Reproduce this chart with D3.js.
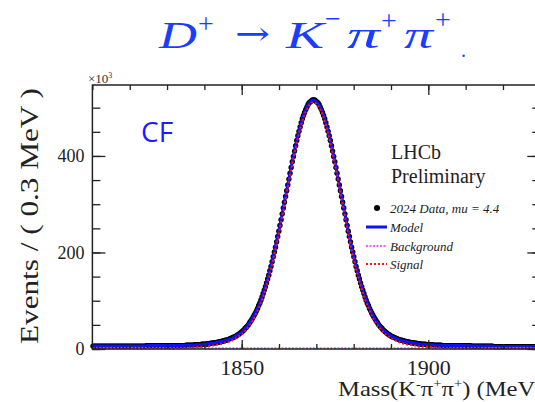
<!DOCTYPE html>
<html>
<head>
<meta charset="utf-8">
<script src="https://cdn.jsdelivr.net/npm/d3@7"></script>
<style>
  body { margin: 0; background: #fff; }
  svg { display: block; }
</style>
</head>
<body>
<svg id="chart" width="535" height="402"></svg>
<script>
// data: Events / 0.3 MeV (x10^3), bins start at 1810 MeV
const massLo = 1810;
const binWidth = 0.3;
const counts = [
  6,6,6,6,6,6,6,6,6,6,6,6,
  6,6,6,6,6,6,6,6,6,6,6,6,
  6,6,6,6,6,6,6,6,6,6,6,6,
  6,6,6,6,6,6,6,6,6,6,6,6,
  7,7,7,7,7,7,7,7,7,7,
  7,7,7,7,7,7,7,7,7,7,
  7,7,7,7,7,7,7,7,7,
  7,7,7,7,7,7,8,8,8,8,
  8,8,8,8,9,9,9,9,9,9,
  10,10,10,10,10,11,11,11,12,12,
  12,13,13,13,14,14,15,15,16,16,
  17,18,18,19,20,21,22,23,24,25,
  26,27,29,30,32,34,36,38,40,43,
  45,48,51,55,58,62,66,70,74,79,
  84,90,95,101,108,115,122,129,137,145,
  153,162,171,181,191,201,211,222,233,244,
  256,268,280,292,304,316,328,340,352,364,
  376,388,399,410,421,432,442,451,460,469,
  477,484,490,496,501,506,510,512,514,516,
  516,
  516,514,512,510,506,501,496,490,484,477,
  469,460,451,442,432,421,410,399,388,376,
  364,352,340,328,316,304,292,280,268,256,
  244,233,222,211,201,191,181,171,162,153,
  145,137,129,122,115,108,101,95,90,84,
  79,74,70,66,62,58,55,51,48,45,
  43,40,38,36,34,32,30,29,27,26,
  25,24,23,22,21,20,19,18,18,17,
  16,16,15,15,14,14,13,13,13,12,
  12,12,11,11,11,10,10,10,10,10,
  9,9,9,9,9,9,8,8,8,8,
  8,8,8,8,7,7,7,7,7,7,
  7,7,7,7,7,7,7,7,7,7,
  7,7,7,7,7,7,7,7,7,7,
  6,6,6,6,6,6,6,6,6,6,
  6,6,6,6,6,6,6,6,6,6,
  5,5,5,5,5,5,5,5,5,5,5,5,5,5,
  5,5,5,5,5,5,5,5,5,5,5,5,5,5,
  5,5,5,5,5,5,5,5,5,5,5,5,5,5
];

// fit curves, one value per MeV from 1810 to 1930
const curveStart = 1810;
const model = [
  6,6,6,6,6,6,6,6,6,6,6,6,6,6,6,
  7,7,7,7,7,7,7,7,7,7,
  8,8,8,9,
  9,10,11,12,13,15,16,19,21,25,30,
  35,43,53,65,80,98,120,146,176,210,
  246,286,326,366,405,440,470,493,509,516,
  513,502,483,456,423,386,346,306,266,227,
  192,161,133,109,89,72,58,48,39,32,
  27,23,20,17,15,14,13,11,10,10,9,
  9,8,8,7,7,7,7,7,7,7,7,
  6,6,6,6,6,6,
  5,5,5,5,5,5,5,5,5,5,5,5,5
];
const signal = [
  1,1,1,1,1,1,1,1,1,1,1,1,1,1,1,1,1,1,1,1,1,1,1,
  2,2,2,3,3,4,
  4,5,6,7,8,10,11,14,16,20,25,
  30,38,48,60,75,93,115,141,171,205,
  241,281,321,361,400,435,465,488,504,511,
  508,497,478,451,418,381,341,301,261,222,
  187,156,128,104,84,67,53,43,34,27,
  22,18,15,12,10,9,8,6,5,5,4,
  4,3,3,2,2,2,
  1,1,1,1,1,1,1,1,1,1,1,1,1,1,1,1,1,1,1,1,1,1,1,1
];
const bkgMass = [1810, 1820, 1830, 1840, 1850, 1860, 1870, 1880, 1890, 1900, 1910, 1920, 1930];
const bkg = [1.7, 1.7, 1.6, 1.6, 1.6, 1.5, 1.5, 1.5, 1.4, 1.4, 1.4, 1.3, 1.3];

const xMajor = [1850, 1900];
const xMinor = [1810, 1820, 1830, 1840, 1850, 1860, 1870, 1880, 1890, 1900, 1910, 1920, 1930];
const yMajor = [0, 200, 400];
const yMinor = [0, 50, 100, 150, 200, 250, 300, 350, 400, 450, 500];
const legendLabels = ["2024 Data, mu = 4.4", "Model", "Background", "Signal"];

const serif = "'Liberation Serif', 'Times New Roman', serif";
const svg = d3.select("#chart");

const x = d3.scaleLinear().domain([1810, 1930]).range([92.4, 540.3]);
const y = d3.scaleLinear().domain([0, 547]).range([349, 85]);

// title
const titleBlue = "#1b3dff";
const title = svg.append("g").attr("fill", titleBlue).attr("font-family", serif);
const big = (txt, px, len) => title.append("text").attr("x", px).attr("y", 48)
  .attr("font-size", 37).attr("font-style", "italic")
  .attr("textLength", len).attr("lengthAdjust", "spacingAndGlyphs").text(txt);
const sup = (txt, px, py) => title.append("text").attr("x", px).attr("y", py)
  .attr("font-size", 28).text(txt);
big("D", 159, 38);
sup("+", 198, 33);
title.append("text").attr("x", 235).attr("y", 45).attr("font-size", 33)
  .attr("font-family", "'DejaVu Serif', serif")
  .attr("textLength", 35).attr("lengthAdjust", "spacingAndGlyphs").text("→");
big("K", 286, 38);
sup("−", 325, 28);
big("π", 347, 33);
sup("+", 381, 30);
big("π", 404, 29);
sup("+", 435, 29);
title.append("text").attr("x", 461).attr("y", 57).attr("font-size", 20).text(".");

// data points
svg.append("g")
  .selectAll("circle")
  .data(counts)
  .join("circle")
  .attr("cx", (d, i) => x(massLo + (i + 0.5) * binWidth))
  .attr("cy", (d) => y(d))
  .attr("r", 2.7)
  .attr("fill", "#000");

const curveLine = d3.line()
  .x((d, i) => x(curveStart + i))
  .y((d) => y(d))
  .curve(d3.curveMonotoneX);

svg.append("path")
  .datum(model)
  .attr("d", curveLine)
  .attr("fill", "none")
  .attr("stroke", "#1010f0")
  .attr("stroke-width", 3);

svg.append("path")
  .datum(bkg)
  .attr("d", d3.line().x((d, i) => x(bkgMass[i])).y((d) => y(d)))
  .attr("fill", "none")
  .attr("stroke", "#f060f0")
  .attr("stroke-width", 2)
  .attr("stroke-dasharray", "2,1.5");

svg.append("path")
  .datum(signal)
  .attr("d", curveLine)
  .attr("fill", "none")
  .attr("stroke", "#ff1010")
  .attr("stroke-width", 2)
  .attr("stroke-dasharray", "2,2");

// frame + ticks
svg.append("rect")
  .attr("x", x(1810)).attr("y", y(547))
  .attr("width", x(1930) - x(1810)).attr("height", y(0) - y(547))
  .attr("fill", "none").attr("stroke", "#222").attr("stroke-width", 1.5);

const styleAxis = (g) => {
  g.select(".domain").remove();
  g.selectAll("line").attr("stroke", "#222").attr("stroke-width", 1.3);
  g.attr("font-family", serif).attr("fill", "#222");
  g.selectAll("text").attr("fill", "#222");
};

svg.append("g").attr("transform", `translate(0,${y(0)})`)
  .call(d3.axisBottom(x).tickValues(xMinor).tickSize(-5).tickFormat(""))
  .call(styleAxis);
svg.append("g").attr("transform", `translate(0,${y(0)})`)
  .call(d3.axisBottom(x).tickValues(xMajor).tickSize(-9).tickPadding(10).tickFormat(d3.format("d")))
  .call(styleAxis)
  .attr("font-size", 22);

svg.append("g").attr("transform", `translate(0,${y(547)})`)
  .call(d3.axisTop(x).tickValues(xMinor).tickSize(-5).tickFormat(""))
  .call(styleAxis);
svg.append("g").attr("transform", `translate(0,${y(547)})`)
  .call(d3.axisTop(x).tickValues(xMajor).tickSize(-10).tickFormat(""))
  .call(styleAxis);

svg.append("g").attr("transform", `translate(${x(1810)},0)`)
  .call(d3.axisLeft(y).tickValues(yMinor).tickSize(-8).tickFormat(""))
  .call(styleAxis);
svg.append("g").attr("transform", `translate(${x(1810)},0)`)
  .call(d3.axisLeft(y).tickValues(yMajor).tickSize(-13).tickPadding(8).tickFormat(d3.format("d")))
  .call(styleAxis)
  .attr("font-size", 18);

svg.append("g").attr("transform", `translate(${x(1930)},0)`)
  .call(d3.axisRight(y).tickValues(yMinor).tickSize(-8).tickFormat(""))
  .call(styleAxis);
svg.append("g").attr("transform", `translate(${x(1930)},0)`)
  .call(d3.axisRight(y).tickValues(yMajor).tickSize(-13).tickFormat(""))
  .call(styleAxis);

// exponent
const expo = svg.append("text").attr("x", 88).attr("y", 83)
  .attr("font-family", serif).attr("font-size", 13).attr("fill", "#333");
expo.append("tspan").text("×10");
expo.append("tspan").attr("dy", -5).attr("font-size", 8).text("3");

// axis titles
svg.append("text")
  .attr("transform", "translate(38,216) rotate(-90)")
  .attr("text-anchor", "middle")
  .attr("font-family", serif).attr("font-size", 26).attr("fill", "#222")
  .attr("textLength", 256).attr("lengthAdjust", "spacingAndGlyphs")
  .text("Events / ( 0.3 MeV )");

const xt = svg.append("text").attr("transform", "translate(338,396) scale(1.12,1)")
  .attr("font-family", serif).attr("font-size", 22).attr("fill", "#222");
xt.append("tspan").text("Mass(K");
xt.append("tspan").attr("dy", -8).attr("font-size", 13).text("-");
xt.append("tspan").attr("dy", 8).text("π");
xt.append("tspan").attr("dy", -8).attr("font-size", 13).text("+");
xt.append("tspan").attr("dy", 8).text("π");
xt.append("tspan").attr("dy", -8).attr("font-size", 13).text("+");
xt.append("tspan").attr("dy", 8).text(") (MeV/c");
xt.append("tspan").attr("dy", -8).attr("font-size", 13).text("2");
xt.append("tspan").attr("dy", 8).text(")");

// labels in the plot
svg.append("text").attr("x", 141).attr("y", 142)
  .attr("font-family", "'Open Sans', 'Noto Sans', sans-serif")
  .attr("font-size", 28).attr("fill", "#1c1cff").text("CF");

svg.append("text").attr("x", 391).attr("y", 159)
  .attr("font-family", serif).attr("font-size", 20).attr("fill", "#222").text("LHCb");
svg.append("text").attr("x", 391).attr("y", 183)
  .attr("font-family", serif).attr("font-size", 20).attr("fill", "#222").text("Preliminary");

// legend
const legendY = [208, 227, 246, 264];
const leg = svg.append("g");
leg.append("circle").attr("cx", 377).attr("cy", legendY[0]).attr("r", 3).attr("fill", "#000");
leg.append("line").attr("x1", 366).attr("x2", 387).attr("y1", legendY[1]).attr("y2", legendY[1])
  .attr("stroke", "#1010f0").attr("stroke-width", 3);
leg.append("line").attr("x1", 366).attr("x2", 387).attr("y1", legendY[2]).attr("y2", legendY[2])
  .attr("stroke", "#f060f0").attr("stroke-width", 2).attr("stroke-dasharray", "2,1.5");
leg.append("line").attr("x1", 366).attr("x2", 387).attr("y1", legendY[3]).attr("y2", legendY[3])
  .attr("stroke", "#ff1010").attr("stroke-width", 2).attr("stroke-dasharray", "2,2");
leg.selectAll("text")
  .data(legendLabels)
  .join("text")
  .attr("x", 390)
  .attr("y", (d, i) => legendY[i] + 4.5)
  .attr("font-family", serif)
  .attr("font-style", "italic")
  .attr("font-size", 13)
  .attr("fill", "#222")
  .text((d) => d);
</script>
</body>
</html>
